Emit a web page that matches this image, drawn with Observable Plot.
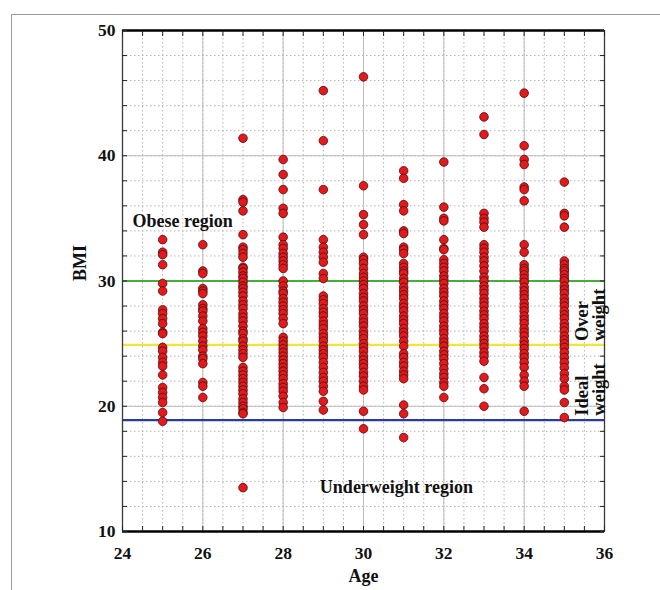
<!DOCTYPE html>
<html>
<head>
<meta charset="utf-8">
<script src="https://cdn.jsdelivr.net/npm/d3@7"></script>
<script src="https://cdn.jsdelivr.net/npm/@observablehq/plot@0.6"></script>
<style>
  body { margin: 0; background: #fff; }
  #wrap { position: relative; width: 660px; height: 590px; overflow: hidden; }
  #wrap svg { position: absolute; left: 0; top: 0; }
  #frame {
    position: absolute; left: 11px; top: 14px; right: -10px; bottom: -10px;
    border-top: 1.5px solid #9b9b9b; border-left: 1.5px solid #9b9b9b;
    pointer-events: none; z-index: 2;
  }
</style>
</head>
<body>
<div id="wrap"><div id="frame"></div></div>
<script>
// BMI readings grouped by age (years)
const ages = [25, 26, 27, 28, 29, 30, 31, 32, 33, 34, 35];

const bmi25 = [33.3, 32.3, 32.1, 31.3, 29.8, 29.2, 27.7, 27.4, 27.0, 26.6, 25.9, 25.8, 24.7, 24.4, 23.9, 23.5, 23.2, 22.5, 21.5, 21.1, 20.7, 20.3, 19.5, 18.8];
const bmi26 = [32.9, 30.8, 30.6, 29.4, 29.2, 29.0, 28.1, 27.8, 27.6, 27.2, 26.8, 26.2, 25.9, 25.6, 25.2, 24.8, 24.5, 24.0, 23.8, 23.4, 21.9, 21.6, 20.7];
const bmi27 = [41.4, 36.5, 36.3, 35.6, 33.7, 32.7, 32.5, 32.2, 31.9, 31.1, 31.0, 30.7, 30.4, 30.2, 29.9, 29.6, 29.4, 29.1, 28.8, 28.4, 28.1, 27.8, 27.4, 27.1, 26.8, 26.4, 26.0, 25.8, 25.4, 25.2, 24.8, 24.5, 24.2, 23.9, 23.1, 22.8, 22.5, 22.2, 21.9, 21.6, 21.3, 21.0, 20.6, 20.3, 20.0, 19.8, 19.5, 19.4, 13.5];
const bmi28 = [39.7, 38.5, 37.3, 35.8, 35.4, 33.5, 32.9, 32.6, 32.2, 31.9, 31.6, 31.3, 31.0, 30.0, 29.6, 29.2, 29.0, 28.6, 28.3, 28.0, 27.7, 27.4, 27.0, 26.6, 25.5, 25.2, 24.9, 24.6, 24.3, 24.0, 23.7, 23.4, 23.1, 22.8, 22.5, 22.2, 21.8, 21.5, 21.2, 20.8, 20.3, 19.9];
const bmi29 = [45.2, 41.2, 37.3, 33.3, 32.7, 32.3, 31.9, 31.5, 30.6, 30.2, 28.8, 28.5, 28.2, 27.8, 27.5, 27.2, 26.8, 26.5, 26.2, 25.8, 25.5, 25.2, 24.8, 24.5, 24.2, 23.9, 23.5, 23.1, 22.7, 22.3, 22.0, 21.6, 21.2, 20.4, 19.7];
const bmi30 = [46.3, 37.6, 35.3, 34.5, 33.7, 31.9, 31.7, 31.4, 31.0, 30.6, 30.3, 30.0, 29.7, 29.4, 29.0, 28.7, 28.4, 28.0, 27.7, 27.4, 27.0, 26.7, 26.4, 26.0, 25.7, 25.4, 25.0, 24.7, 24.4, 24.0, 23.7, 23.4, 23.1, 22.7, 22.4, 22.0, 21.6, 21.3, 19.6, 18.2];
const bmi31 = [38.8, 38.2, 36.1, 35.6, 34.0, 33.8, 32.7, 32.5, 32.2, 31.4, 31.1, 30.8, 30.6, 30.2, 29.9, 29.5, 29.2, 28.9, 28.6, 28.2, 27.9, 27.6, 27.2, 26.9, 26.6, 26.2, 25.9, 25.6, 25.2, 24.8, 24.2, 23.9, 23.5, 23.2, 22.8, 22.5, 22.2, 20.1, 19.4, 17.5];
const bmi32 = [39.5, 35.9, 35.0, 34.8, 33.3, 32.6, 32.5, 31.7, 31.4, 31.1, 30.8, 30.4, 30.1, 29.8, 29.4, 29.1, 28.8, 28.4, 28.1, 27.8, 27.4, 27.1, 26.8, 26.4, 26.1, 25.8, 25.4, 25.1, 24.8, 24.4, 24.1, 23.8, 23.4, 23.0, 22.6, 22.3, 21.9, 21.6, 20.7];
const bmi33 = [43.1, 41.7, 35.4, 35.0, 34.7, 34.3, 32.9, 32.6, 32.3, 31.9, 31.6, 31.2, 30.8, 30.3, 30.0, 29.6, 29.3, 29.0, 28.6, 28.3, 28.0, 27.6, 27.3, 27.0, 26.6, 26.3, 26.0, 25.6, 25.3, 25.0, 24.7, 24.3, 24.0, 23.6, 22.3, 21.4, 20.0];
const bmi34 = [45.0, 40.8, 39.7, 39.3, 37.5, 37.3, 36.4, 32.9, 32.3, 31.3, 31.0, 30.8, 30.5, 30.2, 29.9, 29.5, 29.2, 28.9, 28.6, 28.2, 27.9, 27.6, 27.2, 26.9, 26.6, 26.2, 25.9, 25.6, 25.2, 24.9, 24.6, 24.2, 23.9, 23.5, 23.1, 22.5, 22.0, 21.6, 19.6];
const bmi35 = [37.9, 35.4, 35.2, 34.3, 31.6, 31.3, 31.0, 30.8, 30.5, 30.2, 30.0, 29.6, 29.3, 29.0, 28.6, 28.3, 28.0, 27.6, 27.3, 27.0, 26.6, 26.3, 26.0, 25.6, 25.3, 25.0, 24.7, 24.3, 23.9, 23.5, 23.1, 22.6, 22.2, 21.6, 21.3, 20.3, 19.1];

// Category boundaries drawn as horizontal lines
const obeseLimit = 30;
const overweightLimit = 24.9;
const underweightLimit = 18.9;

// Axis ticks
const xTickLabels = [24, 26, 28, 30, 32, 34, 36];
const yTickLabels = [10, 20, 30, 40, 50];
const xMinorTicks = d3.range(24, 36.001, 0.5);
const yMinorTicks = d3.range(10, 50.001, 2);

const bmiByAge = [bmi25, bmi26, bmi27, bmi28, bmi29, bmi30, bmi31, bmi32, bmi33, bmi34, bmi35];
const records = ages.flatMap((age, i) => bmiByAge[i].map(bmi => ({age, bmi})));

const serif = "'Liberation Serif', 'Times New Roman', Times, serif";
const inkColor = "#111";
const tickStroke = {stroke: "#222", strokeWidth: 1, tickFormat: () => "", label: null};

const chart = Plot.plot({
  width: 660,
  height: 590,
  marginLeft: 122,
  marginRight: 56,
  marginTop: 30,
  marginBottom: 59,
  x: {domain: [24, 36]},
  y: {domain: [10, 50]},
  style: {fontFamily: serif, fontWeight: "bold", fontSize: "17px", color: inkColor, background: "white"},
  marks: [
    // dotted minor grid, solid major grid
    Plot.gridX(xMinorTicks, {stroke: "#b4b4b4", strokeOpacity: 1, strokeDasharray: "1.5,2.5"}),
    Plot.gridY(yMinorTicks, {stroke: "#b4b4b4", strokeOpacity: 1, strokeDasharray: "1.5,2.5"}),
    Plot.gridX(xTickLabels, {stroke: "#bdbdbd", strokeOpacity: 1}),
    Plot.gridY(yTickLabels, {stroke: "#bdbdbd", strokeOpacity: 1}),

    // BMI category boundaries
    Plot.ruleY([obeseLimit], {stroke: "#45ad3c", strokeWidth: 2.2}),
    Plot.ruleY([overweightLimit], {stroke: "#f1e43a", strokeWidth: 2.2}),
    Plot.ruleY([underweightLimit], {stroke: "#2b3a9e", strokeWidth: 2.2}),

    // individual readings
    Plot.dot(records, {x: "age", y: "bmi", r: 4.3, fill: "#e3191c", stroke: "#4d0b0b", strokeWidth: 0.8}),

    // plot box
    Plot.ruleX([24, 36], {stroke: "#3a3a3a", strokeWidth: 1.3}),
    Plot.ruleY([10, 50], {stroke: "#000", strokeWidth: 2.6}),

    // inward tick marks on all four sides
    Plot.axisX(xMinorTicks, {anchor: "bottom", tickSize: 5, dy: -5, ...tickStroke}),
    Plot.axisX(xMinorTicks, {anchor: "top", tickSize: 5, dy: 5, ...tickStroke}),
    Plot.axisY(yMinorTicks, {anchor: "left", tickSize: 5, dx: 5, ...tickStroke}),
    Plot.axisY(yMinorTicks, {anchor: "right", tickSize: 5, dx: -5, ...tickStroke}),

    // tick labels
    Plot.axisX(xTickLabels, {anchor: "bottom", tickSize: 0, tickPadding: 15, label: null, fontSize: 17.5, fill: inkColor}),
    Plot.axisY(yTickLabels, {anchor: "left", tickSize: 0, tickPadding: 7, label: null, fontSize: 17.5, fill: inkColor}),

    // axis titles
    Plot.text(["BMI"], {frameAnchor: "left", text: d => d, rotate: -90, dx: -42, fontSize: 18, fill: inkColor}),
    Plot.text(["Age"], {frameAnchor: "bottom", text: d => d, dy: 50, fontSize: 18, fill: inkColor}),

    // region annotations
    Plot.text(["Obese region"], {x: 24.25, y: 34.8, text: d => d, textAnchor: "start", fontSize: 18, fill: inkColor}),
    Plot.text(["Underweight region"], {x: 30.82, y: 13.5, text: d => d, textAnchor: "middle", fontSize: 18, fill: inkColor}),
    Plot.text(["Over\nweight"], {x: 35.67, y: 25.2, text: d => d, rotate: -90, textAnchor: "start", lineHeight: 0.9, fontSize: 18.5, fill: inkColor}),
    Plot.text(["Ideal\nweight"], {x: 35.67, y: 19.25, text: d => d, rotate: -90, textAnchor: "start", lineHeight: 0.9, fontSize: 18.5, fill: inkColor})
  ]
});

document.getElementById("wrap").insertBefore(chart, document.getElementById("frame"));
</script>
</body>
</html>
